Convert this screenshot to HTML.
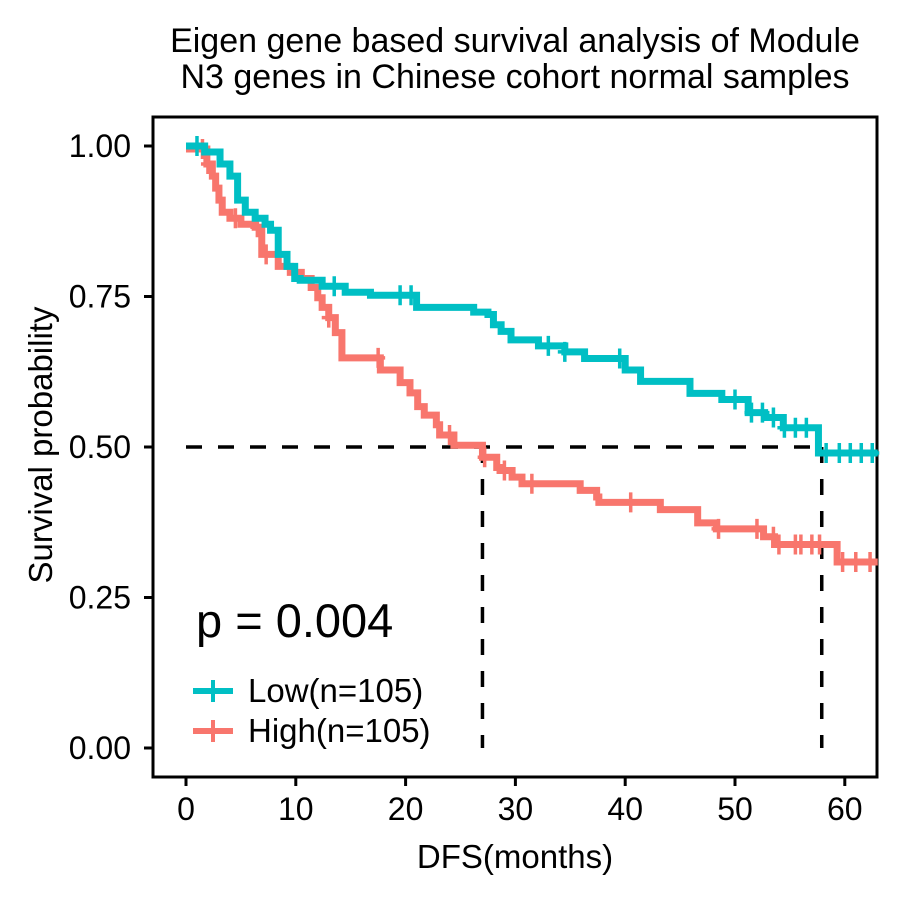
<!DOCTYPE html>
<html><head><meta charset="utf-8"><style>
body{margin:0;background:#fff}
svg text{font-family:"Liberation Sans",Arial,sans-serif;fill:#000}
</style></head><body>
<svg width="900" height="900" viewBox="0 0 900 900">
<text x="515" y="52" font-size="34" text-anchor="middle">Eigen gene based survival analysis of Module</text>
<text x="515" y="88" font-size="34" text-anchor="middle">N3 genes in Chinese cohort normal samples</text>
<rect x="153" y="117" width="724" height="660" fill="none" stroke="#000" stroke-width="3"/>
<g id="axes"></g>
<g id="marks"></g>
<text x="515" y="868" font-size="33" text-anchor="middle">DFS(months)</text>
<text transform="translate(52,445) rotate(-90)" font-size="33" text-anchor="middle">Survival probability</text>
<text x="196" y="637" font-size="47">p = 0.004</text>
<g>
<line x1="193" y1="691" x2="233" y2="691" stroke="#00BFC4" stroke-width="6"/><line x1="213" y1="680" x2="213" y2="702" stroke="#00BFC4" stroke-width="4"/>
<text x="248" y="702" font-size="33">Low(n=105)</text>
<line x1="193" y1="731" x2="233" y2="731" stroke="#F8766D" stroke-width="6"/><line x1="213" y1="720" x2="213" y2="742" stroke="#F8766D" stroke-width="4"/>
<text x="248" y="742" font-size="33">High(n=105)</text>
</g>
</svg>
<script>
const xTicks=[0,10,20,30,40,50,60];
const yTicks=[0,0.25,0.5,0.75,1.0];
const yTickLabels=["0.00","0.25","0.50","0.75","1.00"];
const lowTimes=[0,1.7,3.1,4.0,4.7,5.4,6.3,7.2,7.7,8.4,9.2,9.9,10.4,12.4,14.5,16.8,21.0,26.2,27.5,28.0,28.7,29.6,32.1,34.5,36.3,40.0,41.4,45.9,48.8,51.2,52.7,54.4,57.6];
const lowSurv=[1.0,0.99,0.97,0.95,0.91,0.89,0.88,0.87,0.86,0.82,0.80,0.78,0.777,0.767,0.757,0.752,0.732,0.724,0.72,0.703,0.692,0.678,0.668,0.658,0.647,0.628,0.609,0.589,0.579,0.557,0.549,0.532,0.49];
const highTimes=[0,1.9,2.4,2.7,3.0,3.3,4.0,5.0,6.3,6.9,8.4,9.5,10.5,11.4,12.0,12.4,13.0,13.6,14.2,17.7,19.5,20.4,21.1,21.7,22.8,23.1,24.4,27.0,28.3,28.6,29.7,30.6,35.9,37.4,37.6,43.2,46.6,48.3,52.6,53.6,59.3];
const highSurv=[0.995,0.97,0.95,0.93,0.91,0.89,0.88,0.87,0.865,0.82,0.80,0.79,0.78,0.765,0.748,0.732,0.715,0.69,0.648,0.628,0.607,0.59,0.567,0.553,0.537,0.52,0.503,0.483,0.466,0.461,0.45,0.439,0.428,0.417,0.408,0.396,0.374,0.364,0.351,0.338,0.309];
const lowCensor=[1,13.5,19.5,20.5,33,34.5,39.5,50,51.5,52.5,53.5,54.5,55.5,56.5,58.3,59.5,60.5,61.5,62.5];
const highCensor=[1.5,2,4.5,6.5,7.3,13,17.5,24,27.2,29,31.5,40.5,48.5,52,53.5,54,55.5,56,57,57.7,59.8,61,62.3];
const X=t=>186+t*10.98, Y=s=>748-s*602;
const NS="http://www.w3.org/2000/svg";
function mk(tag,attrs,parent){const e=document.createElementNS(NS,tag);for(const k in attrs)e.setAttribute(k,attrs[k]);parent.appendChild(e);return e;}
const ax=document.getElementById('axes'),mg=document.getElementById('marks');
xTicks.forEach(t=>{const l=mk('line',{x1:X(t),x2:X(t),y1:777,y2:786,stroke:'#000','stroke-width':3},ax);


const tx=mk('text',{x:X(t),y:820,'font-size':32,'text-anchor':'middle'},ax);tx.textContent=t;

});
yTicks.forEach((v,i)=>{const l=mk('line',{x1:144,x2:153,y1:Y(v),y2:Y(v),stroke:'#000','stroke-width':3},ax);


const tx=mk('text',{x:131,y:Y(v)+11,'font-size':32,'text-anchor':'end'},ax);tx.textContent=yTickLabels[i];

});
const medLow=57.9, medHigh=27.0;
const ref=mk('path',{d:`M${X(0)},${Y(0.5)}H${X(medLow)}M${X(medHigh)},${Y(0.5)}V${Y(0)}M${X(medLow)},${Y(0.5)}V${Y(0)}`,stroke:'#000','stroke-width':3.5,'stroke-dasharray':'16,16',fill:'none'},mg);


function survAt(T,S,t){let s=S[0];for(let i=0;i<T.length;i++){if(T[i]<=t)s=S[i];}return s;}
function curve(T,S,C,color,name){
let d=`M${X(T[0])},${Y(S[0])}`;for(let i=1;i<T.length;i++){d+=`H${X(T[i])}V${Y(S[i])}`;}d+=`H${X(63)}`;
const p=mk('path',{d,stroke:color,'stroke-width':7,fill:'none'},mg);


C.forEach(t=>{const s=survAt(T,S,t);const c=mk('path',{d:`M${X(t)-7},${Y(s)}H${X(t)+7}M${X(t)},${Y(s)-10}V${Y(s)+10}`,stroke:color,'stroke-width':3.5},mg);

});}
curve(highTimes,highSurv,highCensor,'#F8766D','high');
curve(lowTimes,lowSurv,lowCensor,'#00BFC4','low');
</script>
</body></html>
